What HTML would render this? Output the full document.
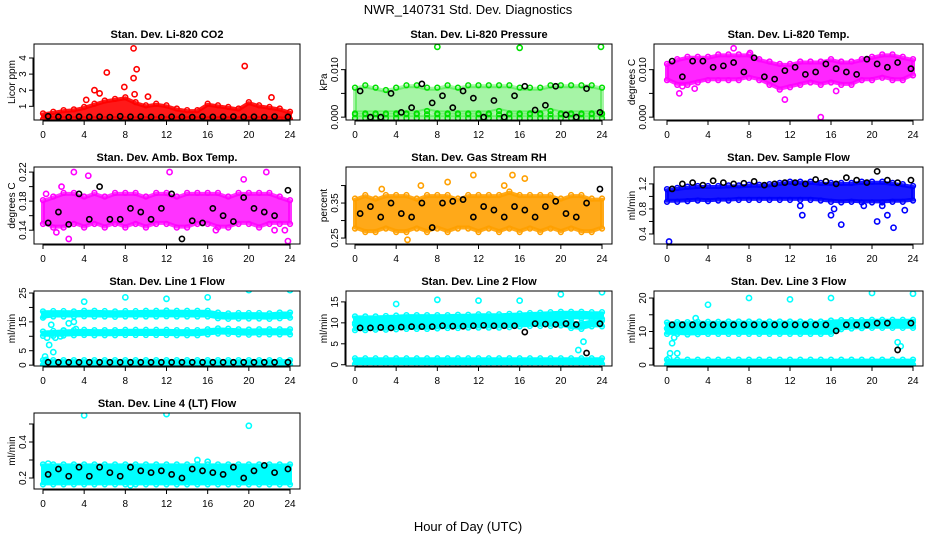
<!DOCTYPE html>
<html><head><meta charset="utf-8"><style>
body{margin:0;background:#fff}
svg{display:block;font-family:"Liberation Sans",sans-serif}
</style></head><body>
<svg id="c" width="936" height="540" viewBox="0 0 936 540">
<text x="468" y="14" text-anchor="middle" font-size="13">NWR_140731  Std. Dev. Diagnostics</text>
<text x="468" y="531" text-anchor="middle" font-size="13">Hour of Day (UTC)</text>
</svg>
<script>
const hours = [0,1,2,3,4,5,6,7,8,9,10,11,12,13,14,15,16,17,18,19,20,21,22,23,24];
const blackHours = [0.5,1.5,2.5,3.5,4.5,5.5,6.5,7.5,8.5,9.5,10.5,11.5,12.5,13.5,14.5,15.5,16.5,17.5,18.5,19.5,20.5,21.5,22.5,23.8];
const xTicks = [0,4,8,12,16,20,24];

const co2Lo = [0.25,0.25,0.25,0.25,0.25,0.25,0.25,0.25,0.25,0.25,0.25,0.25,0.25,0.25,0.25,0.25,0.25,0.25,0.25,0.25,0.25,0.25,0.25,0.25,0.25];
const co2Hi = [0.5,0.6,0.7,0.75,0.9,1.1,1.3,1.4,1.5,1.2,1.0,1.1,1.0,0.8,0.7,0.7,1.1,1.0,0.9,0.8,1.2,1.0,0.9,0.8,0.6];
const co2OutX = [8.8,6.2,9.1,8.8,7.9,19.6,5,4.2,10.2,22.2,8.9,5.5];
const co2OutY = [4.6,3.1,3.3,2.75,2.2,3.5,2.0,1.4,1.6,1.55,1.75,1.8];
const co2Black = [0.38,0.35,0.33,0.36,0.34,0.35,0.33,0.38,0.35,0.36,0.34,0.33,0.35,0.34,0.33,0.36,0.34,0.35,0.36,0.34,0.35,0.33,0.36,0.34];

const prsLo = [0.001,0.001,0.001,0.001,0.001,0.001,0.001,0.0015,0.001,0.001,0.001,0.001,0.001,0.001,0.0015,0.001,0.001,0.001,0.001,0.0015,0.001,0.001,0.001,0.001,0.001];
const prsHi = [0.006,0.0065,0.006,0.0055,0.006,0.0065,0.0065,0.006,0.006,0.0065,0.006,0.0065,0.0065,0.0065,0.0065,0.0065,0.006,0.006,0.006,0.0065,0.0065,0.0065,0.0065,0.0065,0.006];
const prsBaseLo = [0,0,0,0,0,0,0,0,0,0,0,0,0,0,0,0,0,0,0,0,0,0,0,0,0];
const prsBaseHi = [0.0004,0.0004,0.0004,0.0004,0.0004,0.0004,0.0004,0.0004,0.0004,0.0004,0.0004,0.0004,0.0004,0.0004,0.0004,0.0004,0.0004,0.0004,0.0004,0.0004,0.0004,0.0004,0.0004,0.0004,0.0004];
const prsOutX = [8,16,23.9];
const prsOutY = [0.0148,0.0146,0.0148];
const prsBlack = [0.0055,0,0,0.005,0.001,0.002,0.007,0.003,0.0045,0.002,0.0055,0.004,0,0.0035,0,0.0045,0.0065,0.0015,0.0025,0.0065,0.0005,0,0.006,0.001];

const tmpLo = [0.008,0.007,0.007,0.0075,0.008,0.008,0.008,0.008,0.0085,0.008,0.007,0.006,0.0065,0.007,0.0075,0.007,0.0075,0.007,0.007,0.008,0.008,0.0085,0.008,0.008,0.009];
const tmpHi = [0.011,0.012,0.0125,0.0125,0.0125,0.013,0.013,0.013,0.013,0.012,0.0115,0.011,0.011,0.0115,0.0115,0.0115,0.012,0.0115,0.0115,0.012,0.0125,0.013,0.013,0.0125,0.012];
const tmpOutX = [15,11.5,1.2,2.7,8.1,16.5,6.5,1.5];
const tmpOutY = [0,0.0037,0.005,0.006,0.0135,0.0055,0.0145,0.0065];
const tmpBlack = [0.0118,0.0085,0.0118,0.0118,0.0105,0.0108,0.0115,0.0095,0.0125,0.0085,0.008,0.0098,0.0105,0.009,0.0095,0.0112,0.0102,0.0095,0.009,0.0122,0.0112,0.0105,0.0115,0.0102];

const ambLo = [0.15,0.145,0.145,0.15,0.145,0.15,0.145,0.15,0.145,0.15,0.145,0.15,0.15,0.145,0.145,0.15,0.15,0.145,0.145,0.15,0.15,0.145,0.15,0.15,0.15];
const ambHi = [0.18,0.185,0.19,0.19,0.185,0.19,0.185,0.19,0.19,0.19,0.185,0.19,0.19,0.185,0.19,0.19,0.19,0.19,0.185,0.19,0.19,0.19,0.19,0.185,0.18];
const ambOutX = [0.3,1.8,3,4.4,12.3,19.5,21.7,23.8,2.5,16.8,1.3,22.5,23.5];
const ambOutY = [0.19,0.2,0.22,0.215,0.22,0.21,0.22,0.125,0.128,0.14,0.137,0.14,0.14];
const ambBlack = [0.15,0.165,0.148,0.19,0.155,0.2,0.155,0.155,0.17,0.165,0.155,0.17,0.19,0.128,0.153,0.15,0.17,0.16,0.152,0.185,0.17,0.165,0.16,0.195];

const rhLo = [0.28,0.27,0.27,0.28,0.27,0.27,0.28,0.27,0.28,0.27,0.28,0.28,0.27,0.28,0.27,0.28,0.27,0.28,0.27,0.28,0.27,0.28,0.27,0.27,0.28];
const rhHi = [0.36,0.37,0.36,0.37,0.37,0.37,0.36,0.37,0.37,0.37,0.36,0.37,0.37,0.37,0.37,0.38,0.37,0.37,0.37,0.37,0.36,0.37,0.37,0.36,0.36];
const rhOutX = [9,5.1,15.3,16.5,2.6,11.5,6.4,14.5];
const rhOutY = [0.41,0.245,0.43,0.42,0.39,0.43,0.4,0.4];
const rhBlack = [0.32,0.34,0.31,0.35,0.32,0.31,0.35,0.28,0.35,0.355,0.36,0.31,0.34,0.33,0.31,0.34,0.33,0.31,0.34,0.355,0.32,0.31,0.35,0.39];

const flwLo = [0.93,0.93,0.94,0.95,0.94,0.95,0.95,0.96,0.96,0.96,0.96,0.96,0.96,0.96,0.96,0.95,0.93,0.92,0.93,0.92,0.92,0.92,0.93,0.93,0.95];
const flwHi = [1.1,1.12,1.14,1.15,1.15,1.15,1.16,1.16,1.17,1.17,1.18,1.2,1.22,1.22,1.22,1.2,1.2,1.2,1.2,1.22,1.22,1.22,1.2,1.18,1.15];
const flwOutX = [0.2,13,13.2,16,16.3,17,20.5,21,22.1,23.2,21.5,19.2];
const flwOutY = [0.28,0.85,0.7,0.7,0.8,0.55,0.6,0.85,0.5,0.78,0.7,0.85];
const flwBlack = [1.12,1.2,1.22,1.18,1.25,1.22,1.2,1.21,1.24,1.18,1.2,1.22,1.22,1.2,1.27,1.24,1.2,1.3,1.26,1.22,1.4,1.26,1.22,1.26];

const l1TopLo = [16.8,17.2,17.2,17.2,17.3,17.2,17.2,17.1,17.2,17.2,17.2,17.2,17.3,17.2,17.2,17.2,17.2,16.6,16.4,16.5,16.5,16.5,16.4,16.6,16.8];
const l1TopHi = [18.3,18.4,18.4,18.3,18.5,18.5,18.4,18.3,18.4,18.4,18.5,18.5,18.6,18.5,18.5,18.5,18.5,17.9,17.6,17.7,17.7,17.7,17.6,17.9,17.9];
const l1MidLo = [10.5,10.5,10.6,10.7,10.8,10.7,10.7,10.7,10.8,10.8,10.8,10.8,10.8,10.7,10.7,10.7,11,11.3,11.2,11,10.9,11,11,11,11];
const l1MidHi = [11.3,11.5,11.7,11.8,11.9,11.8,11.8,11.8,11.9,11.9,11.9,11.9,11.9,11.8,11.8,11.8,12.1,12.4,12.3,12.1,12,12.1,12.1,12.1,12.1];
const l1BotLo = [0.4,0.4,0.4,0.4,0.4,0.4,0.4,0.4,0.4,0.4,0.4,0.4,0.4,0.4,0.4,0.4,0.4,0.4,0.4,0.4,0.4,0.4,0.4,0.4,0.4];
const l1BotHi = [1.4,1.4,1.4,1.4,1.4,1.4,1.4,1.4,1.4,1.4,1.4,1.4,1.4,1.4,1.4,1.4,1.4,1.4,1.4,1.4,1.4,1.4,1.4,1.4,1.4];
const l1OutX = [4,8,12,16,20,24,0.2,0.4,0.6,0.8,1,1.2,2,2.5,3,3.2,0.1,1.7,0.3];
const l1OutY = [22,23.5,23,23.5,26,26,3,9.5,7,14,4.5,9.5,12,14.5,15,12.5,17,10,1.8];
const l1Black = [1,1,1,1,1,1,1,1,1,1,1,1,1,1,1,1,1,1,1,1,1,1,1,1];

const l2TopLo = [10.2,10.2,10.2,10.3,10.4,10.5,10.5,10.5,10.5,10.5,10.6,10.6,10.7,10.7,10.7,10.8,10.9,11,11.1,11.2,11.3,11.3,11.3,11.2,11.2];
const l2TopHi = [11.3,11.3,11.3,11.4,11.5,11.6,11.6,11.6,11.6,11.6,11.7,11.7,11.8,11.8,11.8,11.9,12,12.1,12.2,12.3,12.4,12.4,12.4,12.3,12.3];
const l2MidLo = [8.5,8.5,8.6,8.6,8.7,8.8,8.8,8.8,8.9,9,9,9.1,9.1,9.1,9.1,9.2,9.4,9.5,9.5,9.5,9.6,9,8.8,9.4,9.4];
const l2MidHi = [9.4,9.4,9.5,9.5,9.6,9.7,9.7,9.7,9.8,9.9,9.9,10,10,10,10,10.1,10.3,10.4,10.4,10.4,10.5,10,9.8,10.3,10.3];
const l2BotLo = [0.4,0.4,0.4,0.4,0.4,0.4,0.4,0.4,0.4,0.4,0.4,0.4,0.4,0.4,0.4,0.4,0.4,0.4,0.4,0.4,0.4,0.4,0.4,0.4,0.4];
const l2BotHi = [1.3,1.3,1.3,1.3,1.3,1.3,1.3,1.3,1.3,1.3,1.3,1.3,1.3,1.3,1.3,1.3,1.3,1.3,1.3,1.3,1.3,1.3,1.3,1.3,1.3];
const l2OutX = [4,8,12,16,20,24,22.2,21.7];
const l2OutY = [14.5,15.5,15.3,15.3,16.8,17.3,5.5,3.5];
const l2Black = [8.8,8.8,8.9,8.8,9,9.1,9.1,9.1,9.3,9.2,9.2,9.3,9.4,9.3,9.3,9.3,7.8,9.8,9.7,9.6,9.8,9.6,2.8,9.8];

const l3TopLo = [11.2,11.4,11.4,11.5,11.5,11.5,11.6,11.6,11.6,11.6,11.6,11.6,11.6,11.6,11.6,11.6,11.8,11.9,11.9,11.9,12,12,12,12,12];
const l3TopHi = [12.4,12.5,12.5,12.6,12.6,12.6,12.7,12.7,12.7,12.7,12.7,12.7,12.7,12.7,12.7,12.7,13,13.1,13.1,13.1,13.2,13.2,13.2,13.2,13.2];
const l3MidLo = [9.6,9.6,9.4,9.5,9.6,9.6,9.6,9.6,9.6,9.6,9.6,9.6,9.6,9.6,9.6,9.6,9.6,11,11.2,11.3,11.4,11.4,11.4,11.4,11.4];
const l3MidHi = [10.6,10.8,10.8,10.8,10.9,10.9,10.9,10.9,10.9,10.9,10.9,10.9,10.9,10.9,10.9,10.9,10.9,12.2,12.3,12.4,12.5,12.5,12.5,12.5,12.5];
const l3BotLo = [0.4,0.4,0.4,0.4,0.4,0.4,0.4,0.4,0.4,0.4,0.4,0.4,0.4,0.4,0.4,0.4,0.4,0.4,0.4,0.4,0.4,0.4,0.4,0.4,0.4];
const l3BotHi = [1.3,1.3,1.3,1.3,1.3,1.3,1.3,1.3,1.3,1.3,1.3,1.3,1.3,1.3,1.3,1.3,1.3,1.3,1.3,1.3,1.3,1.3,1.3,1.3,1.3];
const l3OutX = [4,8,12,16,20,24,0.5,0.7,1,0.3,22.5,22.8,2.8,0.2];
const l3OutY = [18,20,19.6,20,21.5,21.3,6.5,8.2,3.5,3.5,6.8,5.6,14,2];
const l3Black = [12,12,12,12,12,12,12,12,12,12,12,12,12,12,12,12,10.2,12,12,12,12.5,12.5,4.5,12.5];

const l4Lo = [0.17,0.17,0.17,0.17,0.17,0.17,0.17,0.17,0.17,0.17,0.17,0.17,0.17,0.17,0.17,0.17,0.17,0.17,0.17,0.17,0.17,0.17,0.17,0.17,0.17];
const l4Hi = [0.27,0.27,0.27,0.27,0.27,0.27,0.27,0.27,0.27,0.27,0.27,0.27,0.27,0.27,0.27,0.27,0.27,0.27,0.27,0.27,0.27,0.27,0.27,0.27,0.27];
const l4OutX = [4,12,20,15,0.5,8.5,16];
const l4OutY = [0.548,0.555,0.49,0.3,0.28,0.16,0.29];
const l4Black = [0.22,0.25,0.21,0.26,0.21,0.26,0.23,0.21,0.26,0.24,0.23,0.24,0.22,0.2,0.25,0.24,0.23,0.22,0.26,0.2,0.24,0.27,0.23,0.25];

const panels = [
 {title:"Stan. Dev. Li-820 CO2", ylab:"Licor ppm", col:0,row:0, ymin:0.15,ymax:4.87, ticks:[1,2,3,4], labels:["1","2","3","4"], color:"#ff0000", bands:[[co2Lo,co2Hi]], ox:co2OutX, oy:co2OutY, black:co2Black, alpha:0.9},
 {title:"Stan. Dev. Li-820 Pressure", ylab:"kPa", col:1,row:0, ymin:-0.0006,ymax:0.0154, ticks:[0,0.005,0.01], labels:["0.000","","0.010"], color:"#00e000", bands:[[prsLo,prsHi],[prsBaseLo,prsBaseHi]], ox:prsOutX, oy:prsOutY, black:prsBlack, alpha:0.35},
 {title:"Stan. Dev. Li-820 Temp.", ylab:"degrees C", col:2,row:0, ymin:-0.0006,ymax:0.0154, ticks:[0,0.005,0.01], labels:["0.000","","0.010"], color:"#ff00ff", bands:[[tmpLo,tmpHi]], ox:tmpOutX, oy:tmpOutY, black:tmpBlack, alpha:0.85},
 {title:"Stan. Dev. Amb. Box Temp.", ylab:"degrees C", col:0,row:1, ymin:0.121,ymax:0.227, ticks:[0.14,0.16,0.18,0.2,0.22], labels:["0.14","","0.18","","0.22"], color:"#ff00ff", bands:[[ambLo,ambHi]], ox:ambOutX, oy:ambOutY, black:ambBlack, alpha:0.8},
 {title:"Stan. Dev. Gas Stream RH", ylab:"percent", col:1,row:1, ymin:0.233,ymax:0.453, ticks:[0.25,0.3,0.35,0.4], labels:["0.25","","0.35",""], color:"#ffa000", bands:[[rhLo,rhHi]], ox:rhOutX, oy:rhOutY, black:rhBlack, alpha:0.9},
 {title:"Stan. Dev. Sample Flow", ylab:"ml/min", col:2,row:1, ymin:0.24,ymax:1.47, ticks:[0.4,0.6,0.8,1.0,1.2], labels:["0.4","","0.8","","1.2"], color:"#0000ff", bands:[[flwLo,flwHi]], ox:flwOutX, oy:flwOutY, black:flwBlack, alpha:0.9},
 {title:"Stan. Dev. Line 1 Flow", ylab:"ml/min", col:0,row:2, ymin:-0.3,ymax:25.7, ticks:[0,5,10,15,20,25], labels:["0","5","","15","","25"], color:"#00ffff", bands:[[l1TopLo,l1TopHi],[l1MidLo,l1MidHi],[l1BotLo,l1BotHi]], ox:l1OutX, oy:l1OutY, black:l1Black, alpha:1},
 {title:"Stan. Dev. Line 2 Flow", ylab:"ml/min", col:1,row:2, ymin:-0.3,ymax:17.6, ticks:[0,5,10,15], labels:["0","5","10","15"], color:"#00ffff", bands:[[l2TopLo,l2TopHi],[l2MidLo,l2MidHi],[l2BotLo,l2BotHi]], ox:l2OutX, oy:l2OutY, black:l2Black, alpha:1},
 {title:"Stan. Dev. Line 3 Flow", ylab:"ml/min", col:2,row:2, ymin:-0.3,ymax:22.1, ticks:[0,5,10,15,20], labels:["0","","10","","20"], color:"#00ffff", bands:[[l3TopLo,l3TopHi],[l3MidLo,l3MidHi],[l3BotLo,l3BotHi]], ox:l3OutX, oy:l3OutY, black:l3Black, alpha:1},
 {title:"Stan. Dev. Line 4 (LT) Flow", ylab:"ml/min", col:0,row:3, ymin:0.139,ymax:0.561, ticks:[0.2,0.3,0.4,0.5], labels:["0.2","","0.4",""], color:"#00ffff", bands:[[l4Lo,l4Hi]], ox:l4OutX, oy:l4OutY, black:l4Black, alpha:1}
];
const cols = [{L:34,R:300,x0:43,x1:290},{L:346,R:612,x0:355,x1:602},{L:654,R:923,x0:667,x1:913}];
const rows = [{T:44,B:120},{T:167,B:244},{T:291,B:366},{T:413,B:489}];

const NS="http://www.w3.org/2000/svg";
const svg=document.getElementById('c');
function mk(tag,attrs,parent){const e=document.createElementNS(NS,tag);for(const k in attrs)e.setAttribute(k,attrs[k]);(parent||svg).appendChild(e);return e;}

panels.forEach((p,pi)=>{
  const c=cols[p.col], r=rows[p.row];
  const xs=v=>c.x0+(c.x1-c.x0)*v/24;
  const ys=v=>r.B-(r.B-r.T)*(v-p.ymin)/(p.ymax-p.ymin);
  const g=mk('g',{});
  
  
  const clipId='clip'+pi;
  const cp=mk('clipPath',{id:clipId},g);
  mk('rect',{x:c.L,y:r.T,width:c.R-c.L,height:r.B-r.T},cp);
  const plot=mk('g',{'clip-path':'url(#'+clipId+')'},g);
  p.bands.forEach(([lo,hi],bi)=>{
    let d='M'+hours.map((h,i)=>xs(h).toFixed(1)+','+ys(hi[i]).toFixed(1)).join(' L');
    d+=' L'+hours.slice().reverse().map((h,j)=>{const i=hours.length-1-j;return xs(h).toFixed(1)+','+ys(lo[i]).toFixed(1);}).join(' L')+'Z';
    const b=mk('path',{d:d,fill:p.color,'fill-opacity':p.alpha,stroke:p.color,'stroke-width':4,'stroke-opacity':p.alpha,'stroke-linejoin':'round'},plot);
    
    
    hours.forEach((h,i)=>{
      [lo[i],hi[i]].forEach(v=>{
        const m=mk('circle',{cx:xs(h),cy:ys(v)+(v===hi[i]?-1:1),r:2.4,fill:'none',stroke:p.color,'stroke-width':1.5},plot);
        
        
      });
    });
  });
  p.ox.forEach((x,i)=>{
    const m=mk('circle',{cx:xs(x),cy:ys(p.oy[i]),r:2.6,fill:'none',stroke:p.color,'stroke-width':1.6},plot);
    
    
  });
  p.black.forEach((v,i)=>{
    const m=mk('circle',{cx:xs(blackHours[i]),cy:ys(v),r:2.6,fill:'none',stroke:'#000','stroke-width':1.6},plot);
    
    
  });
  const box=mk('rect',{x:c.L,y:r.T,width:c.R-c.L,height:r.B-r.T,fill:'none',stroke:'#000','stroke-width':1},g);
  
  
  const t=mk('text',{x:(c.L+c.R)/2,y:r.T-6,'text-anchor':'middle','font-size':11,'font-weight':'bold'},g);
  t.textContent=p.title;
  
  
  const yl=mk('text',{x:0,y:0,'text-anchor':'middle','font-size':10,transform:'translate('+(c.L-19)+','+((r.T+r.B)/2)+') rotate(-90)'},g);
  yl.textContent=p.ylab;
  
  
  mk('line',{x1:xs(0),x2:xs(24),y1:r.B+1,y2:r.B+1,stroke:'#000'},g);
  xTicks.forEach(v=>{
    mk('line',{x1:xs(v),x2:xs(v),y1:r.B,y2:r.B+5,stroke:'#000'},g);
    const tl=mk('text',{x:xs(v),y:r.B+18,'text-anchor':'middle','font-size':10},g);
    tl.textContent=v;
    
    
  });
  mk('line',{x1:c.L-1,x2:c.L-1,y1:ys(p.ticks[0]),y2:ys(p.ticks[p.ticks.length-1]),stroke:'#000'},g);
  p.ticks.forEach((v,i)=>{
    mk('line',{x1:c.L-5,x2:c.L,y1:ys(v),y2:ys(v),stroke:'#000'},g);
    if(p.labels[i]){
      const tl=mk('text',{x:0,y:0,'text-anchor':'middle','font-size':10,transform:'translate('+(c.L-8)+','+ys(v)+') rotate(-90)'},g);
      tl.textContent=p.labels[i];
      
      
    }
  });
});
</script>
</body></html>
